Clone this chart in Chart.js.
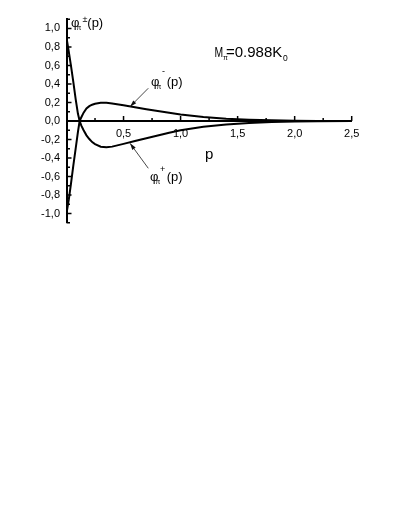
<!DOCTYPE html>
<html lang="en">
<head>
  <meta charset="UTF-8">
  <title>phi pi (p)</title>
  <script src="https://cdn.jsdelivr.net/npm/chart.js"></script>
  <style>
    * { box-sizing: border-box; }
    body { margin: 0; background: #fff; }
    #chart { display: block; }
  </style>
</head>
<body>
  <canvas id="chart" width="409" height="529"></canvas>

  <script>
    // momentum grid and the two wave functions
    const pValues = [0, 0.02, 0.04, 0.06, 0.08, 0.1, 0.115, 0.13, 0.15, 0.175, 0.2, 0.225, 0.25, 0.3, 0.35,
                     0.4, 0.5, 0.6, 0.7, 0.8, 0.9, 1.0, 1.2, 1.4, 1.6, 1.8, 2.0, 2.2, 2.5];
    const phiMinus = [0.90, 0.75, 0.59, 0.42, 0.24, 0.08, 0.0, 0.04, 0.09, 0.135, 0.16, 0.176, 0.186, 0.196, 0.196,
                      0.19, 0.17, 0.148, 0.127, 0.107, 0.088, 0.07, 0.043, 0.025, 0.014, 0.007, 0.003, 0.001, 0];
    const phiPlus = [-1.0, -0.85, -0.67, -0.48, -0.3, -0.12, 0.0, -0.05, -0.1, -0.155, -0.195, -0.228, -0.25, -0.278, -0.284,
                     -0.277, -0.247, -0.216, -0.186, -0.156, -0.127, -0.1, -0.063, -0.038, -0.022, -0.012, -0.006, -0.002, 0];

    const xTicks = [0.5, 1.0, 1.5, 2.0, 2.5];
    const yTicks = [-1.0, -0.8, -0.6, -0.4, -0.2, 0.0, 0.2, 0.4, 0.6, 0.8, 1.0];

    const FONT = "'Liberation Sans', Arial, sans-serif";
    const fmt = v => v.toFixed(1).replace('.', ',');

    function toPoints(ys) {
      return pValues.map((p, i) => ({ x: p, y: ys[i] }));
    }

    // inward ticks, labels with greek letters and the two arrows
    const decorations = {
      id: 'decorations',
      afterDraw(chart) {
        const ctx = chart.ctx;
        const xs = chart.scales.x, ys = chart.scales.y;
        const x0 = xs.getPixelForValue(0);
        const y0 = ys.getPixelForValue(0);

        ctx.save();
        ctx.strokeStyle = '#000';
        ctx.lineWidth = 1.5;
        ctx.beginPath();
        // y axis: major every 0.2, minor every 0.1 (incl. ends at +-1.1)
        for (let i = -11; i <= 11; i++) {
          const y = ys.getPixelForValue(i / 10);
          const len = (i % 2 === 0) ? 5 : 3.5;
          ctx.moveTo(x0, y);
          ctx.lineTo(x0 + len, y);
        }
        // x axis: major every 0.5, minor every 0.25
        for (let i = 1; i <= 10; i++) {
          const x = xs.getPixelForValue(i * 0.25);
          const len = (i % 2 === 0) ? 5 : 3;
          ctx.moveTo(x, y0);
          ctx.lineTo(x, y0 - len);
        }
        ctx.stroke();

        // arrows (tail -> tip, in data units)
        function arrow(p1, v1, p2, v2) {
          const ax = xs.getPixelForValue(p1), ay = ys.getPixelForValue(v1);
          const bx = xs.getPixelForValue(p2), by = ys.getPixelForValue(v2);
          const ang = Math.atan2(by - ay, bx - ax);
          ctx.strokeStyle = '#333';
          ctx.fillStyle = '#111';
          ctx.lineWidth = 0.9;
          ctx.beginPath();
          ctx.moveTo(ax, ay);
          ctx.lineTo(bx, by);
          ctx.stroke();
          ctx.beginPath();
          ctx.moveTo(bx, by);
          ctx.lineTo(bx - 7 * Math.cos(ang - 0.3), by - 7 * Math.sin(ang - 0.3));
          ctx.lineTo(bx - 7 * Math.cos(ang + 0.3), by - 7 * Math.sin(ang + 0.3));
          ctx.closePath();
          ctx.fill();
        }
        arrow(0.717, 0.354, 0.557, 0.155);
        arrow(0.717, -0.511, 0.557, -0.241);

        // phi_pi^sup(p)
        ctx.fillStyle = '#000';
        ctx.textAlign = 'left';
        function phiLabel(x, y, sup, supX, supDy, parX) {
          ctx.textBaseline = 'alphabetic';
          ctx.font = '13px ' + FONT;
          ctx.fillText('φ', x, y);
          ctx.font = '7px ' + FONT;
          ctx.fillText('π', x + 5.5, y + 3);
          ctx.font = '13px ' + FONT;
          ctx.fillText('(p)', x + parX, y);
          ctx.textBaseline = 'middle';
          ctx.font = '9px ' + FONT;
          ctx.fillText(sup, x + supX, y + supDy);
        }
        phiLabel(71, 27, '±', 11.5, -7.8, 16.3);
        phiLabel(151, 86, '-', 11, -14, 15.7);
        phiLabel(150, 181, '+', 10, -11.8, 16.7);

        // M_pi = 0.988 K_0
        ctx.textBaseline = 'alphabetic';
        ctx.save();
        ctx.translate(214.5, 57);
        ctx.scale(0.74, 1);
        ctx.font = '14px ' + FONT;
        ctx.fillText('M', 0, 0);
        ctx.restore();
        ctx.font = '7px ' + FONT;
        ctx.fillText('π', 223, 60);
        ctx.font = '15px ' + FONT;
        ctx.fillText('=0.988K', 226, 57);
        ctx.font = '8.5px ' + FONT;
        ctx.fillText('0', 283, 61);

        // axis title
        ctx.font = '15px ' + FONT;
        ctx.fillText('p', 205, 159);
        ctx.restore();
      }
    };

    new Chart(document.getElementById('chart'), {
      type: 'line',
      data: {
        datasets: [
          { label: 'phi minus', data: toPoints(phiMinus), borderColor: '#000', borderWidth: 2,
            pointRadius: 0, tension: 0, fill: false },
          { label: 'phi plus', data: toPoints(phiPlus), borderColor: '#000', borderWidth: 2,
            pointRadius: 0, tension: 0, fill: false }
        ]
      },
      options: {
        responsive: false,
        animation: false,
        events: [],
        layout: { padding: { left: 0, right: 57.3, top: 19.2, bottom: 306.2 } },
        plugins: { legend: { display: false }, tooltip: { enabled: false } },
        scales: {
          x: {
            type: 'linear',
            min: 0,
            max: 2.5,
            position: { y: 0 },
            afterFit: scale => { scale.height = 0; },
            afterBuildTicks: scale => { scale.ticks = xTicks.map(v => ({ value: v })); },
            grid: { display: false, drawTicks: false },
            border: { display: true, color: '#000', width: 2 },
            ticks: {
              padding: 6,
              maxRotation: 0,
              autoSkip: false,
              color: '#000',
              font: { family: FONT, size: 11 },
              callback: v => fmt(v)
            }
          },
          y: {
            type: 'linear',
            min: -1.1,
            max: 1.1,
            position: 'left',
            afterFit: scale => { scale.width = 66.5; },
            afterBuildTicks: scale => { scale.ticks = yTicks.map(v => ({ value: v })); },
            grid: { display: false, drawTicks: false },
            border: { display: true, color: '#000', width: 2 },
            ticks: {
              padding: 6.5,
              color: '#000',
              font: { family: FONT, size: 11 },
              callback: v => fmt(v)
            }
          }
        }
      },
      plugins: [decorations]
    });
  </script>
</body>
</html>
